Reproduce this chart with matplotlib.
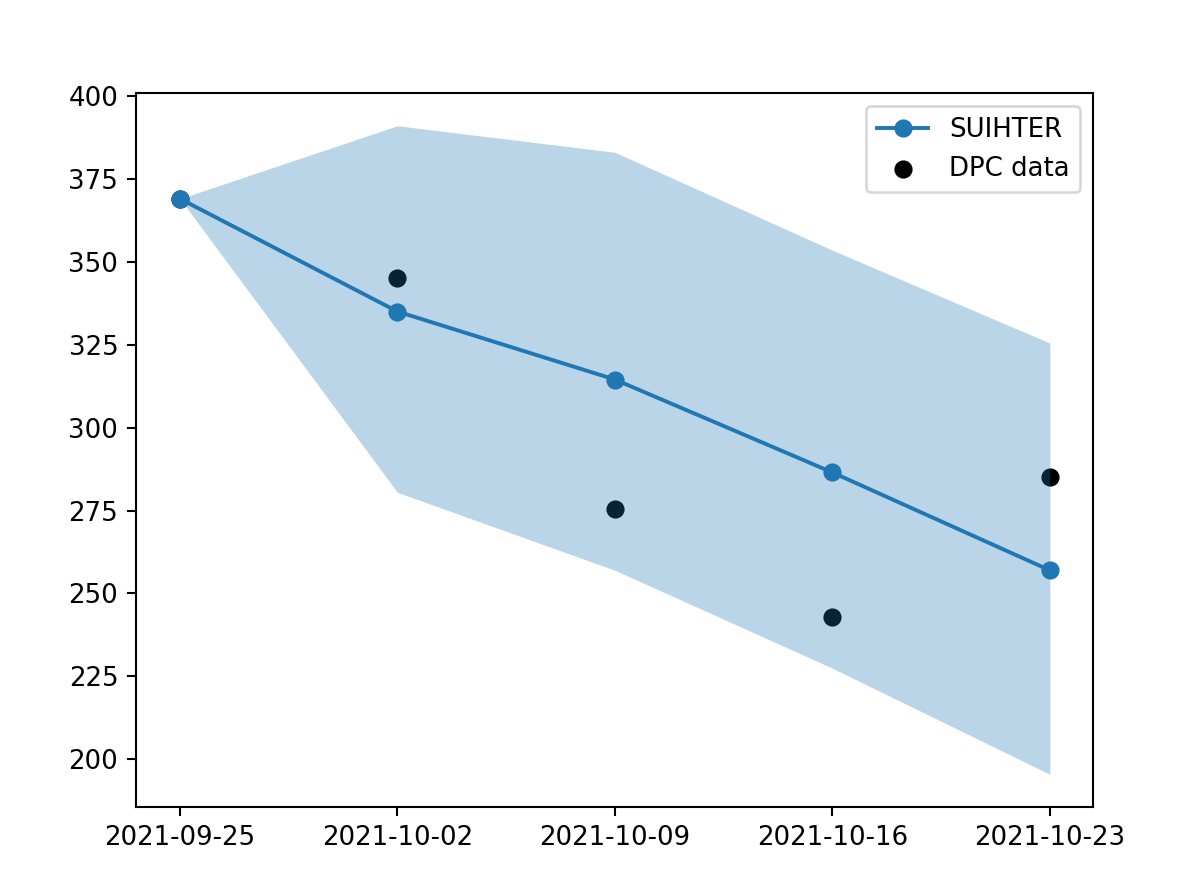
import numpy as np
import matplotlib
matplotlib.use('Agg')
import matplotlib.pyplot as plt
import matplotlib.dates as mdates

# weekly dates
dates = np.array(['2021-09-25', '2021-10-02', '2021-10-09', '2021-10-16', '2021-10-23'],
                 dtype='datetime64[D]')

# model prediction and confidence band
suihter = [369, 335, 314.5, 286.5, 257]
band_low = [369, 280.5, 257, 227.5, 195.5]
band_high = [369, 391, 383, 353.5, 325.5]

# observed data
dpc = [369, 345, 275.5, 243, 285]

fig = plt.figure(figsize=(1196 / 187, 887 / 187), dpi=187)
ax = fig.add_axes([0.1141, 0.0905, 0.8, 0.8043])

ax.plot(dates, suihter, '-o', color='C0', label='SUIHTER')
ax.scatter(dates, dpc, color='k', label='DPC data')
ax.fill_between(dates, band_low, band_high, color='C0', alpha=0.3, linewidth=0)

ax.set_xticks(dates)
ax.xaxis.set_major_formatter(mdates.DateFormatter('%Y-%m-%d'))
ax.legend(loc='upper right')

fig.savefig('out.png', dpi=187)
